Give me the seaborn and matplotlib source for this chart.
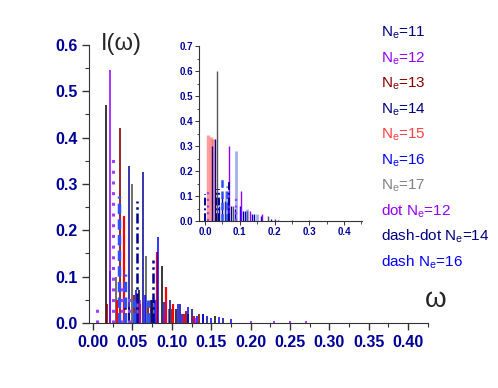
import numpy as np
import seaborn as sns
import matplotlib
matplotlib.use("Agg")
import matplotlib.pyplot as plt
import matplotlib.ticker as ticker

# Datos de la figura principal (frecuencia w, intensidad I)
ne11_w = [0.016, 0.045, 0.058, 0.073, 0.087, 0.105, 0.120, 0.140, 0.155]
ne11_I = [0.470, 0.035, 0.070, 0.050, 0.123, 0.030, 0.020, 0.018, 0.014]
ne12_w = [0.021, 0.060, 0.090, 0.130, 0.200, 0.230, 0.250, 0.270]
ne12_I = [0.545, 0.050, 0.020, 0.010, 0.005, 0.004, 0.003, 0.003]
ne13_w = [0.018, 0.0346, 0.052, 0.070, 0.100, 0.118, 0.135]
ne13_I = [0.040, 0.420, 0.060, 0.040, 0.030, 0.025, 0.020]
ne14_w = [0.046, 0.063, 0.075, 0.098, 0.110, 0.125, 0.145, 0.165]
ne14_I = [0.339, 0.326, 0.050, 0.050, 0.040, 0.030, 0.015, 0.010]
ne15_w = [0.030, 0.039, 0.060, 0.081, 0.093, 0.102, 0.115, 0.128]
ne15_I = [0.050, 0.231, 0.040, 0.154, 0.078, 0.040, 0.020, 0.015]
ne16_w = [0.0215, 0.055, 0.066, 0.078, 0.082, 0.090, 0.108, 0.113, 0.120, 0.132, 0.140, 0.150, 0.160, 0.175]
ne16_I = [0.112, 0.070, 0.060, 0.050, 0.185, 0.045, 0.040, 0.020, 0.035, 0.015, 0.020, 0.010, 0.012, 0.008]
ne17_w = [0.029, 0.050, 0.057, 0.067, 0.076, 0.096]
ne17_I = [0.100, 0.300, 0.060, 0.145, 0.040, 0.030]
dot12_w = [0.005, 0.025, 0.037, 0.045]
dot12_I = [0.040, 0.354, 0.080, 0.060]
dashdot14_w = [0.040, 0.056, 0.076]
dashdot14_I = [0.040, 0.264, 0.136]
dash16_w = [0.033, 0.040, 0.052, 0.070]
dash16_I = [0.273, 0.105, 0.050, 0.050]

# Datos del recuadro
in_pink_w = [0.009, 0.016, 0.024]
in_pink_I = [0.344, 0.336, 0.330]
in_navy_w = [0.019, 0.029, 0.050, 0.058, 0.075, 0.110, 0.140]
in_navy_I = [0.300, 0.330, 0.100, 0.080, 0.060, 0.040, 0.030]
in_gray_w = [0.035, 0.080, 0.120, 0.180]
in_gray_I = [0.600, 0.060, 0.040, 0.020]
in_purple_w = [0.069, 0.102, 0.130, 0.165, 0.200, 0.250, 0.300]
in_purple_I = [0.300, 0.120, 0.040, 0.030, 0.010, 0.005, 0.003]
in_lblue_w = [0.089, 0.060, 0.120, 0.150]
in_lblue_I = [0.280, 0.120, 0.050, 0.030]
in_blue_w = [0.040, 0.065, 0.085, 0.100, 0.115, 0.135, 0.160, 0.190, 0.210]
in_blue_I = [0.060, 0.080, 0.050, 0.060, 0.040, 0.030, 0.020, 0.010, 0.005]
in_dash_w = [0.048, 0.062]
in_dash_I = [0.180, 0.140]
in_dashdot_w = [-0.001, 0.030, 0.040, 0.069]
in_dashdot_I = [0.110, 0.130, 0.130, 0.160]
in_dot_w = [0.009, 0.090]
in_dot_I = [0.120, 0.100]

leyenda = ["N$_e$=11", "N$_e$=12", "N$_e$=13", "N$_e$=14", "N$_e$=15", "N$_e$=16",
           "N$_e$=17", "dot N$_e$=12", "dash-dot N$_e$=14", "dash N$_e$=16"]
colores_leyenda = ["#000080", "#9400FF", "#8B0000", "#00007F", "#FF4040", "#0000FF",
                   "#808080", "#9400FF", "#000080", "#0000FF"]

sns.set_style("ticks")
plt.rcParams['font.family'] = ['Liberation Sans', 'DejaVu Sans']
plt.rcParams['mathtext.default'] = 'regular'

fig = plt.figure(figsize=(4.98, 3.88), dpi=100)
ax = fig.add_axes([0.179, 0.168, 0.680, 0.716])

ax.vlines(ne11_w, 0, ne11_I, color="black", lw=1.1)
ax.vlines(ne17_w, 0, ne17_I, color="#555555", lw=1.2)
ax.vlines(ne13_w, 0, ne13_I, color="#8B0000", lw=1.2)
ax.vlines(ne15_w, 0, ne15_I, color="#FF0000", lw=1.6)
ax.vlines(ne14_w, 0, ne14_I, color="#000090", lw=1.1)
ax.vlines(ne16_w, 0, ne16_I, color="#0000FF", lw=1.1)
ax.vlines(ne12_w, 0, ne12_I, color="#9400FF", lw=1.1)
ax.vlines(dot12_w, 0, dot12_I, color="#9A40FF", lw=2.2, linestyles=(0, (1, 2.5)))
ax.vlines(dashdot14_w, 0, dashdot14_I, color="#000090", lw=1.8, linestyles=(0, (4, 1.5, 1, 1.5)))
ax.vlines(dash16_w, 0, dash16_I, color="#3050FF", lw=2.5, linestyles=(0, (3, 1.5)))

ax.set_xlim(-0.005, 0.425)
ax.set_ylim(0, 0.6)
ax.xaxis.set_major_locator(ticker.MultipleLocator(0.05))
ax.xaxis.set_minor_locator(ticker.MultipleLocator(0.025))
ax.yaxis.set_major_locator(ticker.MultipleLocator(0.1))
ax.yaxis.set_minor_locator(ticker.MultipleLocator(0.05))
ax.xaxis.set_major_formatter(ticker.FormatStrFormatter('%.2f'))
ax.yaxis.set_major_formatter(ticker.FormatStrFormatter('%.1f'))
ax.tick_params(which='major', direction='out', length=5, width=1, color='#333333')
ax.tick_params(which='minor', direction='out', length=3, width=0.8, color='#333333')
for lab in ax.get_xticklabels() + ax.get_yticklabels():
    lab.set_fontweight('bold')
    lab.set_fontsize(11.5)
    lab.set_color('#000099')
sns.despine(ax=ax)
for sp in ['left', 'bottom']:
    ax.spines[sp].set_color('#333333')

fig.text(101 / 498, 1 - 44 / 388, "I(ω)", fontsize=17, ha='left', va='center')
fig.text(436 / 498, 1 - 300 / 388, "ω", fontsize=20, ha='center', va='center')

# Recuadro
axi = fig.add_axes([0.400, 0.430, 0.327, 0.451])
axi.vlines(in_pink_w, 0, in_pink_I, color="#FF5050", lw=2.5, alpha=0.55)
axi.vlines(in_gray_w, 0, in_gray_I, color="#555555", lw=1.0)
axi.vlines(in_navy_w, 0, in_navy_I, color="#000090", lw=1.0)
axi.vlines(in_lblue_w, 0, in_lblue_I, color="#5060D0", lw=2.0, alpha=0.5)
axi.vlines(in_blue_w, 0, in_blue_I, color="#0000FF", lw=1.0)
axi.vlines(in_purple_w, 0, in_purple_I, color="#9400FF", lw=1.0)
axi.vlines(in_dash_w, 0, in_dash_I, color="#3050FF", lw=1.8, linestyles=(0, (3, 1.5)))
axi.vlines(in_dashdot_w, 0, in_dashdot_I, color="#000090", lw=1.4, linestyles=(0, (4, 1.5, 1, 1.5)))
axi.vlines(in_dot_w, 0, in_dot_I, color="#9A40FF", lw=1.6, linestyles=(0, (1, 2)))
axi.set_xlim(-0.017, 0.452)
axi.set_ylim(0, 0.7)
axi.xaxis.set_major_locator(ticker.MultipleLocator(0.1))
axi.xaxis.set_minor_locator(ticker.MultipleLocator(0.05))
axi.yaxis.set_major_locator(ticker.MultipleLocator(0.1))
axi.yaxis.set_minor_locator(ticker.MultipleLocator(0.05))
axi.xaxis.set_major_formatter(ticker.FormatStrFormatter('%.1f'))
axi.yaxis.set_major_formatter(ticker.FormatStrFormatter('%.1f'))
axi.tick_params(which='major', direction='out', length=3, width=0.7, color='#333333', pad=1.5)
axi.tick_params(which='minor', direction='out', length=1.8, width=0.6, color='#333333')
for lab in axi.get_xticklabels() + axi.get_yticklabels():
    lab.set_fontweight('bold')
    lab.set_fontsize(7)
    lab.set_color('#000099')
sns.despine(ax=axi)
for sp in ['left', 'bottom']:
    axi.spines[sp].set_color('#333333')
    axi.spines[sp].set_linewidth(0.8)

# Leyenda en texto coloreado
for i, (txt, col) in enumerate(zip(leyenda, colores_leyenda)):
    fig.text(381 / 498, 1 - (37 + 25.5 * i) / 388, txt, color=col,
             fontsize=11, ha='left', va='baseline')

fig.savefig("out.png", dpi=100)
